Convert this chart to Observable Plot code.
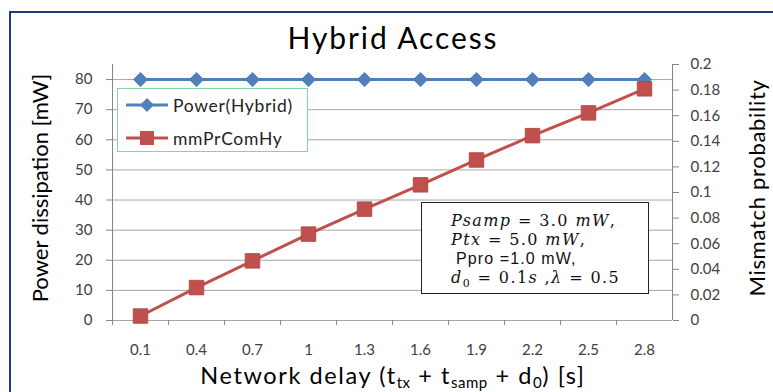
<!DOCTYPE html>
<html>
<head>
<meta charset="utf-8">
<script src="https://cdn.jsdelivr.net/npm/d3@7"></script>
<script src="https://cdn.jsdelivr.net/npm/@observablehq/plot@0.6"></script>
<style>
  html, body { margin: 0; padding: 0; background: #fff; }
  body { width: 773px; height: 392px; overflow: hidden; position: relative; font-family: Lato, "Open Sans", sans-serif; }
  #frame { position: absolute; left: 9px; top: 11px; width: 900px; height: 500px; border-left: 2.5px solid #1f3a7a; border-top: 2.5px solid #1f3a7a; }
  .layer { position: absolute; left: 0; top: 0; width: 773px; height: 392px; }
  .layer svg { position: absolute; left: 0; top: 0; max-width: none !important; }
  #title { position: absolute; left: 0; width: 786px; top: 19px; text-align: center; font-size: 30px; letter-spacing: 1.9px; color: #000; line-height: 36px; }
  .ytitle { position: absolute; font-size: 22px; color: #000; white-space: nowrap; line-height: 26px; transform: translate(-50%, -50%) rotate(-90deg); }
  #xtitle { position: absolute; left: 0; width: 786px; top: 361px; text-align: center; font-size: 23.5px; letter-spacing: 1.6px; color: #000; line-height: 28px; white-space: nowrap; }
  #xtitle sub { font-size: 15px; vertical-align: -4px; line-height: 0; letter-spacing: 0.5px; }
  #legend { position: absolute; left: 117px; top: 88px; width: 191px; height: 64px; box-sizing: border-box; border: 1.5px solid #86d3a3; background: #fff; }
  .lg { position: absolute; left: 8px; height: 20px; display: flex; align-items: center; font-size: 17.5px; letter-spacing: 0.7px; color: #222; white-space: nowrap; }
  .lg svg { margin-right: 3px; }
  #note { position: absolute; left: 421px; top: 202px; width: 228px; height: 92px; box-sizing: border-box; border: 1.3px solid #222; background: #fff; }
  .nl { position: absolute; left: 29px; white-space: nowrap; font-family: "DejaVu Serif", "Liberation Serif", serif; font-size: 16px; letter-spacing: 1.4px; color: #111; line-height: 19px; }
  .nl i { font-style: italic; }
  .nl.sans { font-family: "Liberation Sans", Arial, sans-serif; font-size: 16px; letter-spacing: 1.1px; left: 34px; }
</style>
</head>
<body>
<div id="frame"></div>
<div id="p1" class="layer"></div>
<div id="legend"></div>
<div id="note"></div>
<div id="p2" class="layer"></div>
<div id="title">Hybrid Access</div>
<div id="ytitleL" class="ytitle" style="left:40px; top:188px;">Power dissipation [mW]</div>
<div id="ytitleR" class="ytitle" style="left:757px; top:188px; letter-spacing: 0.7px;">Mismatch probability</div>
<div id="xtitle">Network delay (t<sub>tx</sub> + t<sub>samp</sub> + d<sub>0</sub>) [s]</div>
<script>
// ---- data ----
const delays = ["0.1", "0.4", "0.7", "1", "1.3", "1.6", "1.9", "2.2", "2.5", "2.8"];
const powerHybrid = [80, 80, 80, 80, 80, 80, 80, 80, 80, 80];
const mmPrComHy = [0.0035, 0.0257, 0.0466, 0.0675, 0.087, 0.106, 0.1254, 0.1444, 0.1622, 0.181];
const leftTicks = [0, 10, 20, 30, 40, 50, 60, 70, 80];
const rightTicks = [0, 0.02, 0.04, 0.06, 0.08, 0.1, 0.12, 0.14, 0.16, 0.18, 0.2];
const seriesNames = ["Power(Hybrid)", "mmPrComHy"];
const seriesColors = ["#4f81bd", "#c0504d"];

const rows = delays.map((d, i) => ({delay: d, power: powerHybrid[i], mm: mmPrComHy[i]}));

// ---- layout ----
const W = 773, H = 392, ML = 112, MR = 101, MT = 64, MB = 72;
const bw = (W - ML - MR) / delays.length;
const axisGray = "#868686";
const common = {
  width: W, height: H, marginLeft: ML, marginRight: MR, marginTop: MT, marginBottom: MB,
  style: {fontFamily: "Lato, 'Open Sans', sans-serif", fontSize: "15px", color: "#404040", background: "transparent", overflow: "visible"}
};
const diamond = d3.symbolDiamond2 || "diamond";

const p1 = Plot.plot({
  ...common,
  x: {type: "band", domain: delays, padding: 0},
  y: {domain: [0, 85]},
  marks: [
    Plot.ruleY(leftTicks, {stroke: "#a6a6a6", strokeWidth: 1}),
    Plot.ruleX([delays[0]], {dx: -bw / 2, stroke: axisGray}),
    Plot.ruleX(delays, {x: d => d, y1: 0, y2: 0, insetBottom: -5, dx: -bw / 2, stroke: axisGray}),
    Plot.axisY({ticks: leftTicks, tickSize: 6, tickPadding: 14, stroke: axisGray, label: null, fontSize: 15}),
    Plot.axisX({tickSize: 0, tickPadding: 24, label: null, fontSize: 15}),
    Plot.line(rows, {x: "delay", y: "power", stroke: seriesColors[0], strokeWidth: 3}),
    Plot.dot(rows, {x: "delay", y: "power", symbol: diamond, r: 6.4, fill: seriesColors[0], stroke: "#4677b3", strokeWidth: 0.8})
  ]
});
document.getElementById("p1").appendChild(p1);

const p2 = Plot.plot({
  ...common,
  x: {type: "band", domain: delays, padding: 0, axis: null},
  y: {domain: [0, 0.2]},
  marks: [
    Plot.ruleX([delays[delays.length - 1]], {dx: bw / 2, stroke: axisGray}),
    Plot.axisY({anchor: "right", ticks: rightTicks, tickFormat: d => String(d), tickSize: 6, tickPadding: 12, stroke: axisGray, label: null, fontSize: 15}),
    Plot.line(rows, {x: "delay", y: "mm", stroke: seriesColors[1], strokeWidth: 3}),
    Plot.dot(rows, {x: "delay", y: "mm", symbol: "square", r: 8.2, fill: seriesColors[1], stroke: "#b3403d", strokeWidth: 0.8})
  ]
});
document.getElementById("p2").appendChild(p2);

// ---- legend ----
const legend = document.getElementById("legend");
const swatchShapes = [
  `<path d="M14,8 L21,1 L28,8 L21,15 Z" fill="${seriesColors[0]}"/>`,
  `<rect x="14" y="1" width="14" height="14" fill="${seriesColors[1]}"/>`
];
seriesNames.forEach((name, i) => {
  const row = document.createElement("div");
  row.className = "lg";
  row.style.top = (i === 0 ? 6 : 39) + "px";
  row.innerHTML = `<svg width="44" height="16"><line x1="0" y1="8" x2="42" y2="8" stroke="${seriesColors[i]}" stroke-width="3"/>${swatchShapes[i]}</svg><span>${name}</span>`;
  legend.appendChild(row);
});

// ---- annotation ----
const noteLines = [
  {cls: "nl", html: "<i>Psamp</i> = 3.0 <i>mW</i>,"},
  {cls: "nl", html: "<i>Ptx</i> = 5.0 <i>mW</i>,"},
  {cls: "nl sans", html: "Ppro =1.0 mW,"},
  {cls: "nl", html: "<i>d</i><sub style='font-size:11px;line-height:0'>0</sub> = 0.1<i>s</i> ,<i>λ</i> = 0.5"}
];
const note = document.getElementById("note");
noteLines.forEach((l, i) => {
  const el = document.createElement("div");
  el.className = l.cls;
  el.style.top = (8 + i * 19) + "px";
  el.innerHTML = l.html;
  note.appendChild(el);
});
</script>
</body>
</html>
